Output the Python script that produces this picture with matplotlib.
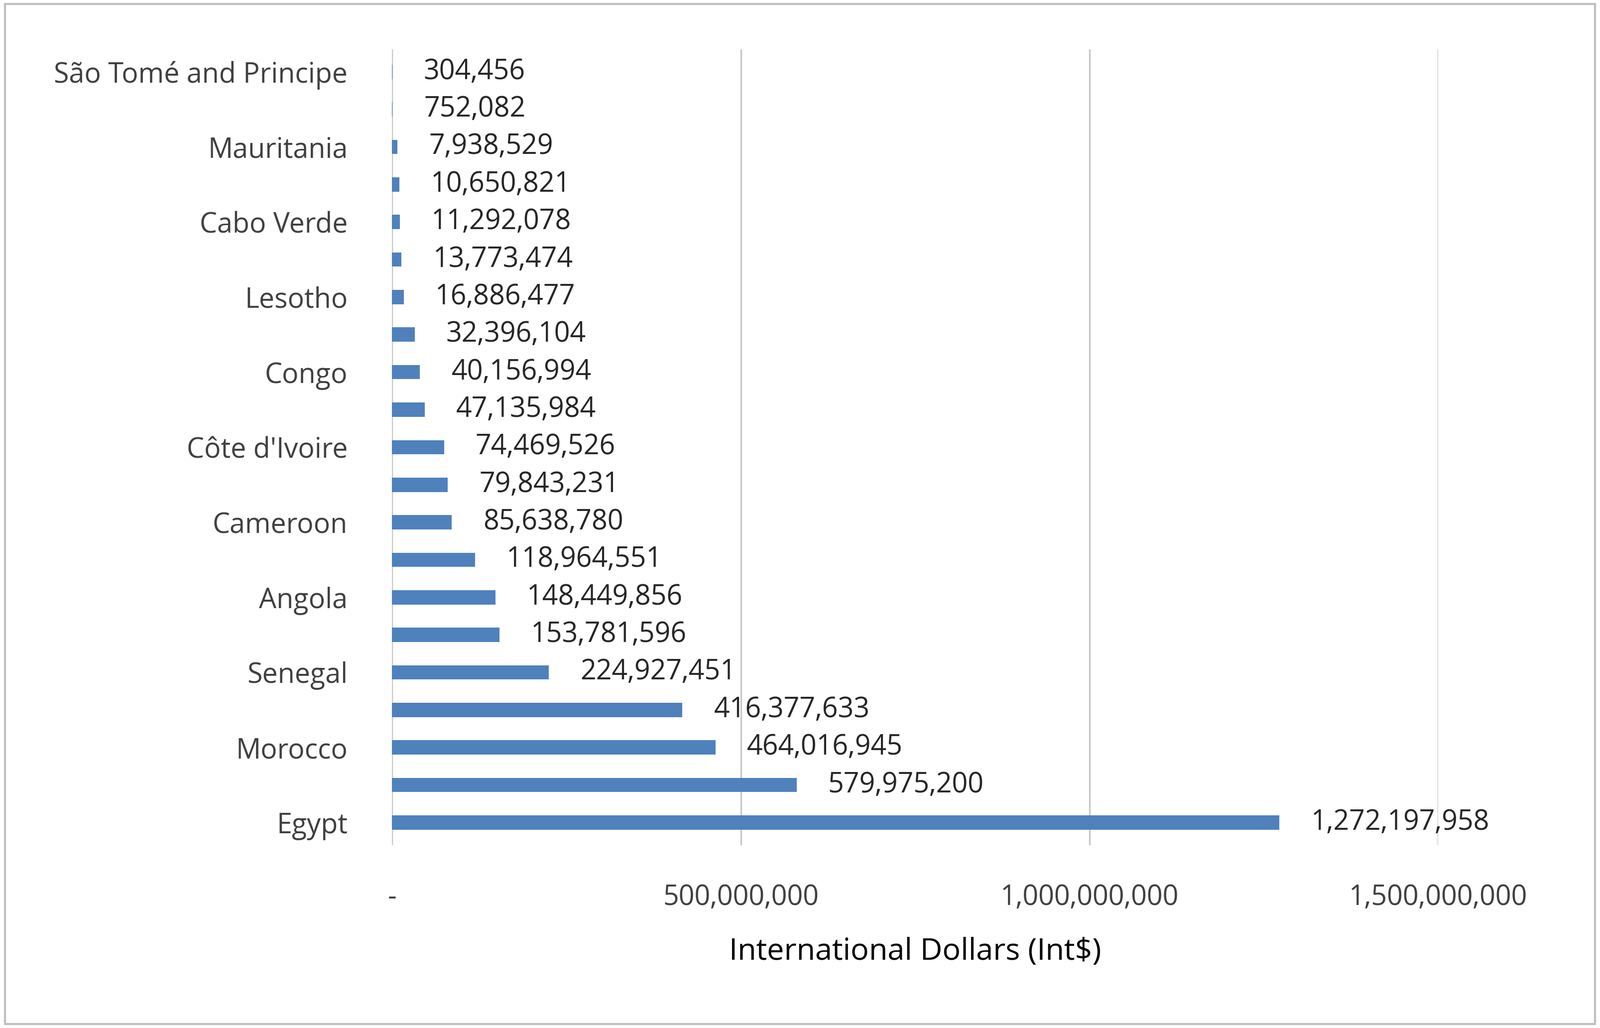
import matplotlib
matplotlib.use("Agg")
import matplotlib.pyplot as plt
from matplotlib.ticker import FuncFormatter

categories = ["Egypt", "", "Morocco", "", "Senegal", "", "Angola", "", "Cameroon", "",
              "Côte d'Ivoire", "", "Congo", "", "Lesotho", "", "Cabo Verde", "",
              "Mauritania", "", "São Tomé and Principe"]
values = [1272197958, 579975200, 464016945, 416377633, 224927451, 153781596, 148449856,
          118964551, 85638780, 79843231, 74469526, 47135984, 40156994, 32396104, 16886477,
          13773474, 11292078, 10650821, 7938529, 752082, 304456]
xticks = [0, 500000000, 1000000000, 1500000000]

plt.rcParams["font.family"] = "Open Sans"
fig = plt.figure(figsize=(16.065, 10.32), dpi=200)
ax = fig.add_axes([0.245, 0.178, 0.654, 0.774])
y = list(range(len(values)))
ax.barh(y, values, height=0.38, color="#4F81BD", zorder=3)
for yi, v in zip(y, values):
    ax.text(v + 45000000, yi, f"{v:,}", va="center", ha="left", fontsize=20, color="#262626")
ax.set_yticks(y)
ax.set_yticklabels(categories, fontsize=20, color="#404040")
ax.set_ylim(-0.6, len(values) - 0.4)
ax.set_xlim(0, 1500000000)
ax.set_xticks(xticks)
ax.xaxis.set_major_formatter(FuncFormatter(lambda v, p: "-" if v == 0 else f"{int(v):,}"))
ax.tick_params(axis="x", labelsize=20, labelcolor="#404040", length=0, pad=28)
ax.tick_params(axis="y", length=0, pad=32)
ax.grid(axis="x", color="#C8C8C8", linewidth=1.2, zorder=0)
for s in ax.spines.values():
    s.set_visible(False)
ax.axvline(0, color="#D0D0D0", linewidth=1.2, zorder=1)
ax.set_xlabel("International Dollars (Int$)", fontsize=22, color="#000000", labelpad=18)
fig.patches.append(plt.Rectangle((0.003, 0.004), 0.994, 0.992, transform=fig.transFigure,
                                 fill=False, edgecolor="#BFBFBF", linewidth=1.5))
fig.savefig("out.png", dpi=200)
